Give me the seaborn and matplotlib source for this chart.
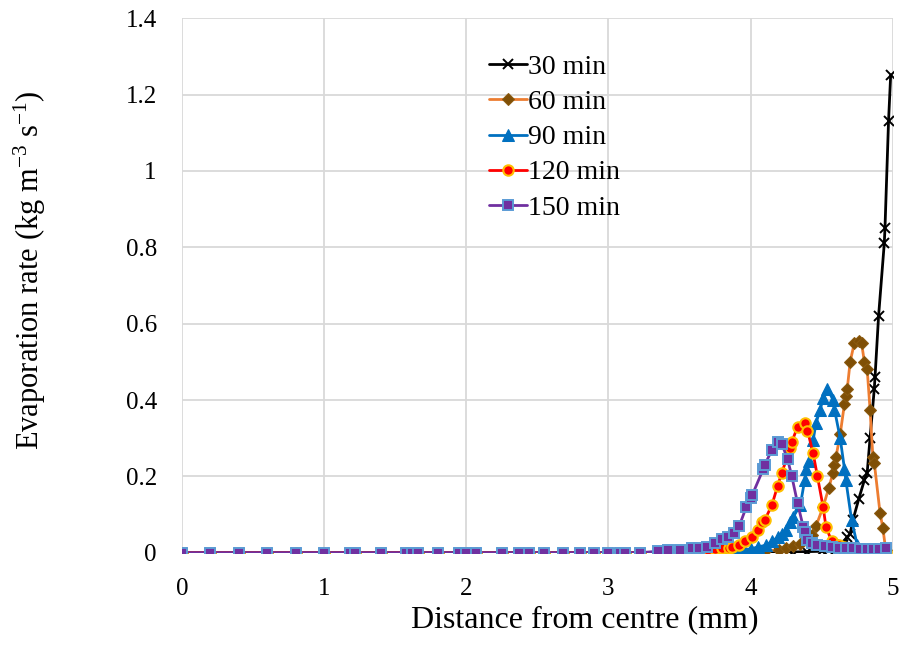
import matplotlib
matplotlib.use("Agg")
import matplotlib.pyplot as plt
import seaborn as sns
import pandas as pd

# ---- data ----
x_base = [0.0, 0.2, 0.4, 0.6, 0.8, 1.0, 1.18, 1.22, 1.4, 1.58, 1.62, 1.66, 1.8,
          1.95, 2.0, 2.07, 2.25, 2.37, 2.44, 2.55, 2.68, 2.8, 2.9, 3.0, 3.08, 3.12, 3.22]
y_base = [0.0, 0.0, 0.0, 0.0, 0.0, 0.0, 0.0, 0.0, 0.0, 0.0, 0.0, 0.0, 0.0,
          0.0, 0.0, 0.0, 0.0, 0.0, 0.0, 0.0, 0.0, 0.0, 0.0, 0.0, 0.0, 0.0, 0.0]

x_30 = [3.35, 3.5, 3.7, 3.9, 4.0, 4.2, 4.3, 4.4, 4.5, 4.55, 4.6, 4.65, 4.68, 4.7, 4.72,
        4.76, 4.8, 4.82, 4.84, 4.87, 4.875, 4.9, 4.94, 4.945, 4.97, 4.985]
y_30 = [0.0, 0.0, 0.0, 0.0, 0.0, 0.001, 0.002, 0.003, 0.004, 0.006, 0.01, 0.02, 0.04, 0.05,
        0.086, 0.14, 0.19, 0.21, 0.30, 0.43, 0.46, 0.62, 0.81, 0.85, 1.13, 1.25]

x_60 = [3.35, 3.5, 3.7, 3.9, 4.0, 4.1, 4.2, 4.25, 4.3, 4.35, 4.4, 4.43, 4.46, 4.51, 4.55,
        4.58, 4.59, 4.6, 4.63, 4.66, 4.67, 4.68, 4.7, 4.73, 4.76, 4.78, 4.8, 4.82, 4.84,
        4.86, 4.87, 4.91, 4.93, 4.95]
y_60 = [0.0, 0.0, 0.0, 0.0, 0.002, 0.004, 0.008, 0.012, 0.017, 0.022, 0.035, 0.047, 0.07,
        0.12, 0.17, 0.21, 0.23, 0.25, 0.31, 0.39, 0.41, 0.43, 0.50, 0.55, 0.555, 0.55, 0.50,
        0.48, 0.375, 0.25, 0.235, 0.105, 0.065, 0.008]

x_90 = [3.35, 3.5, 3.7, 3.8, 3.9, 3.95, 4.0, 4.05, 4.11, 4.15, 4.19, 4.22, 4.25, 4.28,
        4.3, 4.35, 4.38, 4.39, 4.41, 4.44, 4.46, 4.49, 4.51, 4.54, 4.58, 4.59, 4.63, 4.66,
        4.67, 4.71, 4.75, 4.8, 4.85, 4.9, 4.95]
y_90 = [0.0, 0.0, 0.002, 0.004, 0.006, 0.008, 0.01, 0.015, 0.02, 0.03, 0.04, 0.05, 0.06,
        0.08, 0.094, 0.125, 0.19, 0.22, 0.24, 0.295, 0.34, 0.375, 0.405, 0.43, 0.40, 0.375,
        0.30, 0.22, 0.19, 0.086, 0.02, 0.003, 0.0, 0.0, 0.0]

x_120 = [3.35, 3.5, 3.6, 3.65, 3.7, 3.75, 3.8, 3.85, 3.87, 3.92, 3.96, 4.01, 4.05, 4.08,
         4.1, 4.15, 4.19, 4.22, 4.28, 4.29, 4.33, 4.38, 4.4, 4.44, 4.47, 4.51, 4.53, 4.57,
         4.62, 4.66, 4.7, 4.75, 4.8, 4.85, 4.9, 4.95]
y_120 = [0.0, 0.002, 0.004, 0.006, 0.008, 0.01, 0.012, 0.013, 0.015, 0.02, 0.03, 0.04,
         0.06, 0.08, 0.086, 0.125, 0.175, 0.21, 0.275, 0.29, 0.33, 0.34, 0.32, 0.26, 0.20,
         0.12, 0.068, 0.03, 0.02, 0.015, 0.01, 0.006, 0.004, 0.003, 0.002, 0.002]

x_150 = [3.35, 3.42, 3.5, 3.59, 3.64, 3.69, 3.75, 3.8, 3.84, 3.88, 3.92, 3.97, 4.0, 4.01,
         4.09, 4.1, 4.15, 4.19, 4.22, 4.26, 4.29, 4.33, 4.37, 4.38, 4.4, 4.43, 4.47, 4.52,
         4.57, 4.62, 4.67, 4.72, 4.77, 4.82, 4.86, 4.9, 4.95]
y_150 = [0.004, 0.006, 0.008, 0.013, 0.013, 0.016, 0.026, 0.037, 0.042, 0.052, 0.07, 0.12,
         0.144, 0.15, 0.22, 0.23, 0.27, 0.29, 0.285, 0.245, 0.20, 0.13, 0.068, 0.055, 0.034,
         0.026, 0.02, 0.017, 0.015, 0.013, 0.012, 0.012, 0.011, 0.011, 0.01, 0.01, 0.012]

labels = ["30 min", "60 min", "90 min", "120 min", "150 min"]

# ---- styling ----
sns.set_theme(style="whitegrid")
plt.rcParams["font.family"] = ["Liberation Serif", "DejaVu Serif"]
plt.rcParams["mathtext.fontset"] = "custom"
plt.rcParams["mathtext.rm"] = "Liberation Serif"
plt.rcParams["mathtext.it"] = "Liberation Serif:italic"

fig = plt.figure(figsize=(9, 6.48), dpi=100)
ax = fig.add_axes([0.202, 0.147, 0.790, 0.825])

series = [
    (x_30, y_30, dict(color="black", marker="x", markersize=7, markeredgewidth=1.4,
                      markerfacecolor="black", markeredgecolor="black")),
    (x_60, y_60, dict(color="#ED7D31", marker="D", markersize=6,
                      markerfacecolor="#7F4F06", markeredgecolor="#8B5A10")),
    (x_90, y_90, dict(color="#0070C0", marker="^", markersize=8,
                      markerfacecolor="#0070C0", markeredgecolor="#0070C0")),
    (x_120, y_120, dict(color="#FF0000", marker="o", markersize=7.5, markeredgewidth=1.5,
                        markerfacecolor="#FF0000", markeredgecolor="#FFC000")),
    (x_150, y_150, dict(color="#7030A0", marker="s", markersize=7, markeredgewidth=1.4,
                        markerfacecolor="#7030A0", markeredgecolor="#5B9BD5")),
]

for (xs, ys, kw), lab in zip(series, labels):
    df = pd.DataFrame({"x": x_base + xs, "y": y_base + ys})
    sns.lineplot(data=df, x="x", y="y", ax=ax, label=lab, sort=False,
                 estimator=None, linewidth=2, **kw)

ax.set_xlim(0, 5)
ax.set_ylim(0, 1.4)
ax.set_xticks([0, 1, 2, 3, 4, 5])
ax.set_yticks([0, 0.2, 0.4, 0.6, 0.8, 1.0, 1.2, 1.4])
ax.set_yticklabels(["0", "0.2", "0.4", "0.6", "0.8", "1", "1.2", "1.4"])
ax.set_xticklabels(["0", "1", "2", "3", "4", "5"])
ax.tick_params(axis="both", labelsize=18, colors="black", length=0)
ax.tick_params(axis="y", pad=18)
ax.tick_params(axis="x", pad=18)
ax.grid(True, color="#D9D9D9", linewidth=1.3)
for s in ax.spines.values():
    s.set_visible(False)
ax.set_xlabel("Distance from centre (mm)", fontsize=23, color="black")
ax.set_ylabel(r"Evaporation rate (kg m$^{\mathregular{-3}}$ s$^{\mathregular{-1}}$)",
              fontsize=22, color="black")
ax.xaxis.label.set_va("center")
ax.yaxis.label.set_va("center")
ax.xaxis.set_label_coords(0.567, -0.125)
ax.yaxis.set_label_coords(-0.214, 0.529)

leg = ax.legend(loc="upper left", bbox_to_anchor=(0.432, 0.932), frameon=False,
                fontsize=20, handlelength=1.37, handletextpad=0.05, labelspacing=0.35,
                borderaxespad=0, borderpad=0)
for t in leg.get_texts():
    t.set_color("black")

fig.savefig("out.png", dpi=100)
